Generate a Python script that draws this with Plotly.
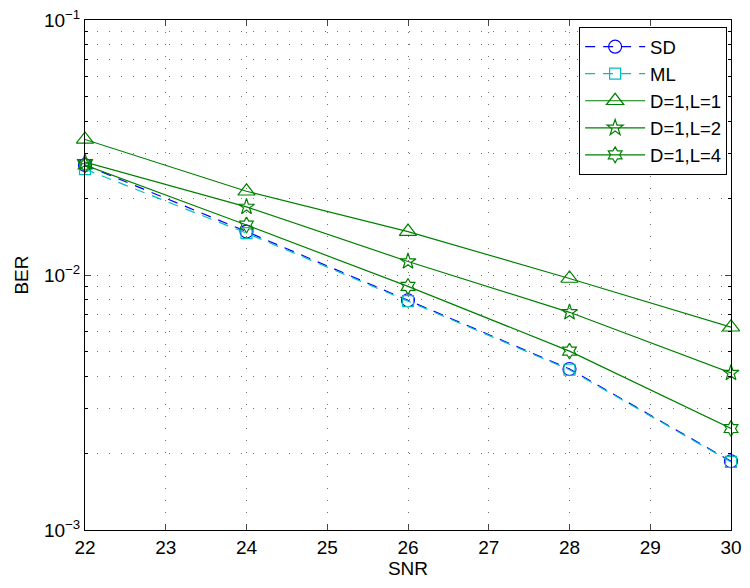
import plotly.graph_objects as go

snr = [22, 24, 26, 28, 30]
ber_sd = [0.0270, 0.0148, 0.00796, 0.00428, 0.00186]
ber_ml = [0.0260, 0.0146, 0.00790, 0.00425, 0.00185]
ber_l1 = [0.0340, 0.0213, 0.0148, 0.00969, 0.00624]
ber_l2 = [0.0277, 0.0185, 0.0113, 0.00714, 0.00413]
ber_l4 = [0.0270, 0.0157, 0.00902, 0.00503, 0.00250]

names = ["SD", "ML", "D=1,L=1", "D=1,L=2", "D=1,L=4"]
series = [ber_sd, ber_ml, ber_l1, ber_l2, ber_l4]
colors = ["#0000FF", "#00BFBF", "#008000", "#008000", "#008000"]
symbols = ["circle-open", "square-open", "triangle-up-open", "star-open", "hexagram-open"]
dashes = ["10px,8px", "10px,8px", "solid", "solid", "solid"]
sizes = [13, 11, 15, 12, 12]

x_ticks = list(range(22, 31))
y_tickvals = [1e-3, 1e-2, 1e-1]
y_ticktext = ["10<sup>\u22123</sup>", "10<sup>\u22122</sup>", "10<sup>\u22121</sup>"]

FONT = "Liberation Sans, Arial, Helvetica, sans-serif"
FS = 19

fig = go.Figure()
for n, s, c, sym, d, sz in zip(names, series, colors, symbols, dashes, sizes):
    fig.add_trace(go.Scatter(
        x=snr, y=s, name=n, mode="lines+markers", cliponaxis=False,
        line=dict(color=c, width=1.2, dash=d),
        marker=dict(symbol=sym, size=sz, color=c, line=dict(color=c, width=1.2)),
    ))

minor_y = [m * 10 ** e for e in (-3, -2) for m in range(2, 10)]

fig.update_layout(
    width=734, height=572,
    margin=dict(l=77, r=11, t=12, b=50),
    paper_bgcolor="white", plot_bgcolor="white",
    font=dict(family=FONT, size=FS, color="black"),
    showlegend=True,
    legend=dict(
        x=0.994, y=0.986, xanchor="right", yanchor="top",
        bgcolor="white", bordercolor="black", borderwidth=1,
        font=dict(size=18.5), tracegroupgap=0, itemwidth=60,
    ),
    xaxis=dict(
        range=[22, 30], tickvals=x_ticks, ticks="inside", ticklen=6,
        showline=True, linecolor="black", linewidth=1, mirror="ticks",
        showgrid=True, gridcolor="rgba(0,0,0,0.55)", griddash="1px,11px", gridwidth=1,
        zeroline=False, automargin=False, ticklabeloverflow="allow",
        title=dict(text="SNR", standoff=2, font=dict(size=FS)),
        tickfont=dict(size=FS),
    ),
    yaxis=dict(
        type="log", range=[-3, -1], tickvals=y_tickvals, ticktext=y_ticktext,
        ticks="inside", ticklen=6,
        showline=True, linecolor="black", linewidth=1, mirror="ticks",
        showgrid=True, gridcolor="rgba(0,0,0,0.55)", griddash="1px,11px", gridwidth=1,
        zeroline=False, automargin=False, ticklabeloverflow="allow",
        minor=dict(tickmode="array", tickvals=minor_y, ticks="inside", ticklen=3,
                   tickcolor="black", showgrid=True,
                   gridcolor="rgba(0,0,0,0.55)", griddash="1px,11px", gridwidth=1),
        title=dict(text="BER", standoff=10, font=dict(size=FS)),
        tickfont=dict(size=FS),
    ),
)

fig.write_html("out.html")
